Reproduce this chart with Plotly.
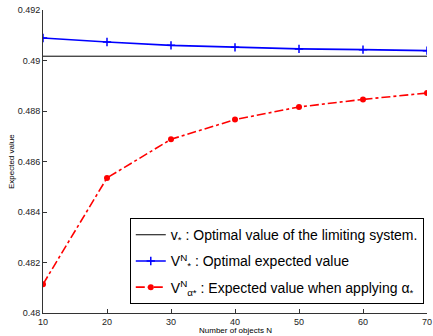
import plotly.graph_objects as go

N = [10, 20, 30, 40, 50, 60, 70]
v_limit = 0.49017
V_opt = [0.49089, 0.49073, 0.49060, 0.49052, 0.49046, 0.49043, 0.49039]
V_alpha = [0.48114, 0.48535, 0.48688, 0.48766, 0.48816, 0.48846, 0.48871]

y_ticks = [0.48, 0.482, 0.484, 0.486, 0.488, 0.49, 0.492]
y_ticktext = ["0.48", "0.482", "0.484", "0.486", "0.488", "0.49", "0.492"]
x_ticks = [10, 20, 30, 40, 50, 60, 70]

fig = go.Figure()
fig.add_trace(go.Scatter(
    x=[N[0], N[-1]], y=[v_limit, v_limit], mode="lines", legendgroup="a",
    line=dict(color="black", width=1),
    name="v<sub>*</sub> : Optimal value of the limiting system."))
fig.add_trace(go.Scatter(
    x=N, y=V_opt, mode="lines+markers", legendgroup="b",
    line=dict(color="#0000ff", width=1.6),
    marker=dict(symbol="cross-thin", size=6, line=dict(color="#0000ff", width=1.5)),
    name="V<sup>N</sup><sub>*</sub> : Optimal expected value"))
fig.add_trace(go.Scatter(
    x=N, y=V_alpha, mode="lines+markers", legendgroup="c",
    line=dict(color="#ff0000", width=1.6, dash="dashdot"),
    marker=dict(symbol="circle", size=6, color="#ff0000"),
    name="V<sup>N</sup><sub>α*</sub> : Expected value when applying α<sub>*</sub>"))

axis_common = dict(showline=True, linecolor="#333333", linewidth=1, ticks="inside",
                   ticklen=4, tickcolor="#333333", showgrid=False, zeroline=False,
                   mirror=False, automargin=False, tickfont=dict(size=9, color="#222222"))
fig.update_layout(
    width=433, height=336,
    margin=dict(l=43, r=6, t=10, b=23),
    plot_bgcolor="white", paper_bgcolor="white",
    font=dict(family="Liberation Sans, Arial, sans-serif", color="black"),
    xaxis=dict(range=[10, 70], tickvals=x_ticks, **axis_common),
    yaxis=dict(range=[0.48, 0.492], tickvals=y_ticks, ticktext=y_ticktext, **axis_common),
    legend=dict(x=0.226, y=0.313, xanchor="left", yanchor="top",
                bordercolor="black", borderwidth=1, bgcolor="white",
                font=dict(size=14), tracegroupgap=5, itemwidth=30),
    showlegend=True,
    annotations=[
        dict(text="Number of objects N", xref="paper", yref="paper", x=0.5, y=-0.057,
             xanchor="center", yanchor="middle", showarrow=False, font=dict(size=8)),
        dict(text="Expected value", xref="paper", yref="paper", x=-0.065, y=0.5,
             xanchor="right", yanchor="middle", textangle=-90, showarrow=False,
             font=dict(size=8)),
    ],
)
fig.write_html("out.html", config={"displayModeBar": False},
               post_script="document.body.style.margin='0';document.body.style.overflow='hidden';")
